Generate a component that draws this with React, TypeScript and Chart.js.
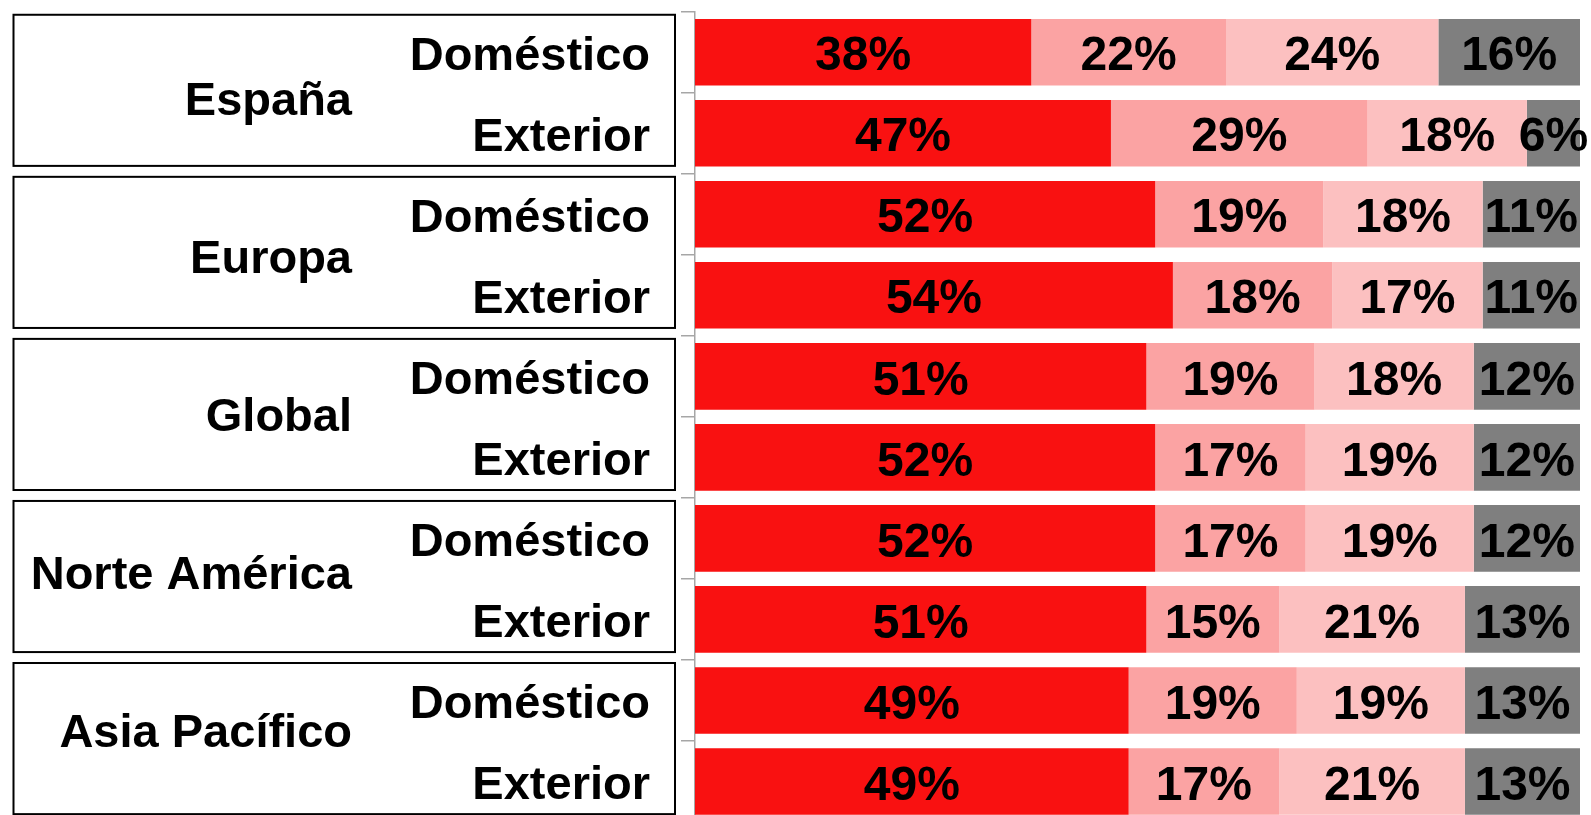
import React, { useEffect, useRef } from "react";
import { Chart, registerables } from "chart.js";

Chart.register(...registerables);

// ---- data ----
const groups = ["España", "Europa", "Global", "Norte América", "Asia Pacífico"];
const subLabels = ["Doméstico", "Exterior"];
const rowLabels = groups.flatMap((g) => subLabels.map((s) => `${g} · ${s}`));

const seriesNames = ["Serie 1", "Serie 2", "Serie 3", "Serie 4"];
const serie1 = [38, 47, 52, 54, 51, 52, 52, 51, 49, 49];
const serie2 = [22, 29, 19, 18, 19, 17, 17, 15, 19, 17];
const serie3 = [24, 18, 18, 17, 18, 19, 19, 21, 19, 21];
const serie4 = [16, 6, 11, 11, 12, 12, 12, 13, 13, 13];
const seriesColors = ["#F91111", "#FBA3A3", "#FCC0C0", "#7F7F7F"];

const FONT = '"Liberation Sans", Arial, Helvetica, sans-serif';
const CAP = 0.716; // cap height ratio for Arial-like fonts

const leftPanelPlugin = {
  id: "leftPanel",
  afterDraw(chart: any) {
    const ctx = chart.ctx as CanvasRenderingContext2D;
    const y = chart.scales.y;
    const axisX = chart.chartArea.left;
    const pitch = y.getPixelForValue(1) - y.getPixelForValue(0);
    const fs = 47;
    const n = subLabels.length;
    const firstCenter = (y.getPixelForValue(0) + y.getPixelForValue(n - 1)) / 2;
    ctx.save();
    ctx.font = `bold ${fs}px ${FONT}`;
    ctx.fillStyle = "#000";
    ctx.textBaseline = "alphabetic";
    groups.forEach((g, gi) => {
      const r0 = gi * n;
      const yA = y.getPixelForValue(r0);
      const yB = y.getPixelForValue(r0 + n - 1);
      const center = (yA + yB) / 2;
      const h = pitch * 1.865;
      // box
      ctx.lineWidth = 2;
      ctx.strokeStyle = "#000";
      ctx.strokeRect(13.5, center - 2.4 - h / 2, axisX - 20 - 13.5, h);
      // group name
      ctx.textAlign = "right";
      const labelY = firstCenter + 5 + (center - firstCenter) * 0.975;
      ctx.fillText(g, axisX - 343, labelY + (fs * CAP) / 2);
      // sub labels
      subLabels.forEach((s, si) => {
        ctx.fillText(s, axisX - 45, y.getPixelForValue(r0 + si) + 1 + (fs * CAP) / 2);
      });
    });
    ctx.restore();
  },
};

const valueLabelPlugin = {
  id: "valueLabels",
  afterDatasetsDraw(chart: any) {
    const ctx = chart.ctx as CanvasRenderingContext2D;
    const fs = 48;
    ctx.save();
    ctx.font = `bold ${fs}px ${FONT}`;
    ctx.fillStyle = "#000";
    ctx.textAlign = "center";
    ctx.textBaseline = "alphabetic";
    chart.data.datasets.forEach((ds: any, di: number) => {
      const meta = chart.getDatasetMeta(di);
      meta.data.forEach((el: any, i: number) => {
        const cx = (el.x + el.base) / 2;
        ctx.fillText(`${ds.data[i]}%`, cx, el.y + 1 + (fs * CAP) / 2);
      });
    });
    ctx.restore();
  },
};

export default function App() {
  const canvasRef = useRef<HTMLCanvasElement | null>(null);

  useEffect(() => {
    const canvas = canvasRef.current;
    if (!canvas) return;
    const allSeries = [serie1, serie2, serie3, serie4];
    const chart = new Chart(canvas, {
      type: "bar",
      data: {
        labels: rowLabels,
        datasets: allSeries.map((d, i) => ({
          label: seriesNames[i],
          data: d,
          backgroundColor: seriesColors[i],
          borderWidth: 0,
          barPercentage: 0.822,
          categoryPercentage: 1,
        })),
      },
      options: {
        indexAxis: "y",
        responsive: false,
        animation: false,
        devicePixelRatio: 1,
        layout: { padding: { top: 11.7, bottom: 8, left: 0, right: 11 } },
        plugins: {
          legend: { display: false },
          tooltip: { enabled: false },
        },
        scales: {
          x: {
            display: false,
            stacked: true,
            min: 0,
            max: 100,
          },
          y: {
            stacked: true,
            offset: true,
            afterFit: (scale: any) => {
              scale.width = 695;
            },
            ticks: { display: false },
            grid: {
              offset: true,
              drawOnChartArea: false,
              drawTicks: true,
              tickLength: 14,
              color: "#A6A6A6",
              lineWidth: 1.5,
            },
            border: { display: true, color: "#A6A6A6", width: 1.5 },
          },
        },
      },
      plugins: [leftPanelPlugin, valueLabelPlugin],
    } as any);
    return () => chart.destroy();
  }, []);

  return (
    <div
      style={{
        position: "fixed",
        left: 0,
        top: 0,
        width: 1591,
        height: 815,
        overflow: "hidden",
        background: "#fff",
      }}
    >
      <canvas
        ref={canvasRef}
        width={1591}
        height={830}
        style={{ width: 1591, height: 830, display: "block" }}
      />
    </div>
  );
}
